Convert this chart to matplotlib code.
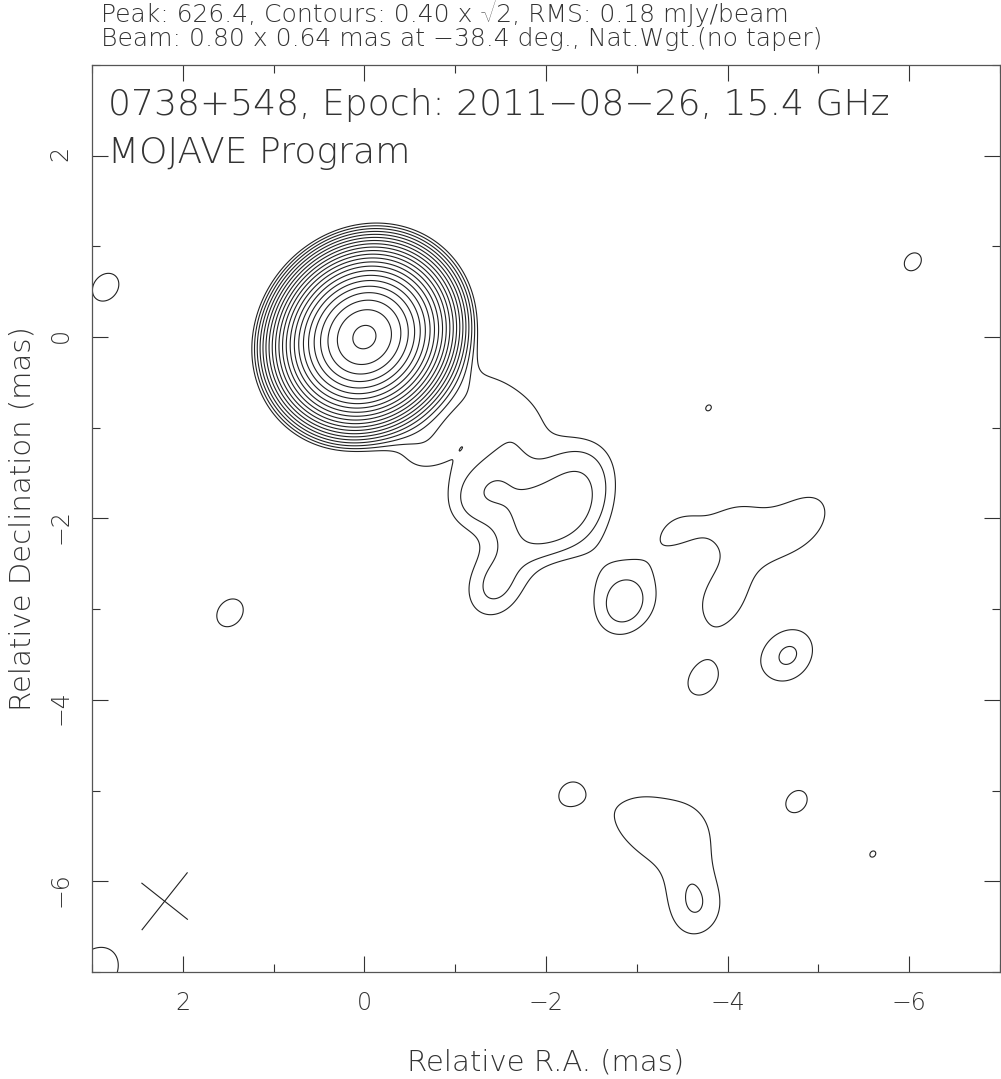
import numpy as np
import matplotlib
matplotlib.use("Agg")
import matplotlib.pyplot as plt
from matplotlib.ticker import MultipleLocator

# restoring beam (mas, mas, deg) and where it is drawn
beam_maj = 0.80
beam_min = 0.64
beam_pa = -38.4
beam_pos = (2.2, -6.22)

# contours: 0.40 mJy/beam x sqrt(2)^n
base_level = 0.40
n_levels = 22

# core: position, peak (mJy/beam), intrinsic size (FWHM maj, min, PA)
core_pos = (0.0, 0.0)
core_peak = 626.0
core_size = (0.34, 0.10, 55.0)

# jet and blob clean components (beam-restored peaks, mJy/beam)
jet_ra = [-1.15, -1.50, -1.85, -0.65, -1.55, -1.40, -1.15, -1.70, -2.30,
          -2.50, -2.35, -2.05, -1.80, -1.50, -1.45, -2.20, -2.55, -1.30,
          -2.88, -2.62, -3.30, -3.57, -4.10, -4.40, -4.95, -4.75, -4.45,
          -4.05, -3.93, -3.90, -4.05, -2.90, -3.25, -3.55, -3.75, -3.45,
          -3.55, -3.70, -3.15,
          -4.67, -3.71, -2.25, -4.76, -6.04, -3.79, -5.60, 1.48, 2.85, 2.95]
jet_dec = [-0.60, -0.70, -0.90, -1.20, -1.20, -1.65, -1.80, -1.75, -1.55,
           -1.75, -2.00, -2.05, -2.10, -2.60, -2.85, -1.30, -1.35, -2.60,
           -2.97, -2.55, -2.17, -2.06, -1.95, -1.90, -1.90, -2.20, -2.30,
           -2.30, -2.65, -2.98, -2.75, -5.25, -5.20, -5.25, -5.55, -5.65,
           -6.05, -6.40, -5.65,
           -3.51, -3.80, -5.03, -5.12, 0.83, -0.78, -5.70, -3.04, 0.55, -6.98]
jet_peak = [0.305, 0.256, 0.227, 0.466, 0.181, 0.347, 0.340, 0.234, 0.217,
            0.241, 0.267, 0.497, 0.263, 0.133, 0.391, 0.197, 0.171, 0.138,
            0.630, 0.211, 0.238, 0.198, 0.266, 0.045, 0.327, 0.178, 0.194,
            0.072, 0.021, 0.330, 0.160, 0.323, 0.099, 0.213, 0.209, 0.020,
            0.299, 0.401, 0.228,
            0.59, 0.44, 0.42, 0.43, 0.42, 0.402, 0.402, 0.45, 0.45, 0.55]

title_lines = ["Peak: 626.4, Contours: 0.40 x \u221a2, RMS: 0.18 mJy/beam",
               "Beam: 0.80 x 0.64 mas at \u221238.4 deg., Nat.Wgt.(no taper)"]
label_lines = ["0738+548, Epoch: 2011\u221208\u221226, 15.4 GHz",
               "MOJAVE Program"]


def cov_from_fwhm(maj, mn, pa_deg):
    pa = np.radians(pa_deg)
    u = np.array([np.sin(pa), np.cos(pa)])
    v = np.array([np.cos(pa), -np.sin(pa)])
    k = 1.0 / (8.0 * np.log(2.0))
    return k * (maj ** 2 * np.outer(u, u) + mn ** 2 * np.outer(v, v))


def gauss(X, Y, x0, y0, peak, cov):
    inv = np.linalg.inv(cov)
    dx = X - x0
    dy = Y - y0
    q = inv[0, 0] * dx * dx + 2 * inv[0, 1] * dx * dy + inv[1, 1] * dy * dy
    return peak * np.exp(-0.5 * q)


FONT = ["DejaVu Sans", "Lato", "Noto Sans"]
LINE = "#222222"
TEXT = "#333333"

fig = plt.figure(figsize=(10.01, 10.79), dpi=100)
ax = fig.add_axes([92 / 1001, 107 / 1079, 908 / 1001, 907 / 1079])

# restored map: components convolved with the beam
xs = np.linspace(3.2, -7.2, 1041)
ys = np.linspace(-7.2, 3.2, 1041)
X, Y = np.meshgrid(xs, ys)
beam_cov = cov_from_fwhm(beam_maj, beam_min, beam_pa)
img = gauss(X, Y, core_pos[0], core_pos[1], core_peak,
            beam_cov + cov_from_fwhm(*core_size))
for ra, dec, pk in zip(jet_ra, jet_dec, jet_peak):
    img += gauss(X, Y, ra, dec, pk, beam_cov)

levels = base_level * np.sqrt(2) ** np.arange(n_levels)
ax.contour(X, Y, img, levels=levels, colors=LINE, linewidths=0.8)

# beam cross
for length, ang in [(beam_maj, beam_pa), (beam_min, beam_pa + 90)]:
    a = np.radians(ang)
    dx = 0.5 * length * np.sin(a)
    dy = 0.5 * length * np.cos(a)
    ax.plot([beam_pos[0] - dx, beam_pos[0] + dx],
            [beam_pos[1] - dy, beam_pos[1] + dy], color=LINE, lw=0.8)

ax.set_xlim(3, -7)
ax.set_ylim(-7, 3)
ax.xaxis.set_major_locator(MultipleLocator(2))
ax.xaxis.set_minor_locator(MultipleLocator(1))
ax.yaxis.set_major_locator(MultipleLocator(2))
ax.yaxis.set_minor_locator(MultipleLocator(1))
ax.tick_params(which="both", direction="in", top=True, right=True,
               color=TEXT, width=0.8)
ax.tick_params(which="major", length=11.5)
ax.tick_params(which="minor", length=5.8)
ax.tick_params(axis="x", pad=14, labelsize=17, labelcolor=TEXT)
ax.tick_params(axis="y", pad=14, labelsize=17, labelrotation=90,
               labelcolor=TEXT)
for lab in ax.get_xticklabels() + ax.get_yticklabels():
    lab.set_family(FONT)
    lab.set_weight("light")
for sp in ax.spines.values():
    sp.set_color("#555555")
    sp.set_linewidth(0.9)

ax.set_xlabel("Relative R.A. (mas)", fontsize=21, family=FONT,
              weight="light", labelpad=24, color=TEXT)
ax.set_ylabel("Relative Declination (mas)", fontsize=21, family=FONT,
              weight="light", labelpad=9, color=TEXT)

for i, line in enumerate(title_lines):
    fig.text(101 / 1001, 1 - (22 + 24 * i) / 1079, line, fontsize=18,
             family=FONT, weight="light", va="baseline", color=TEXT)
for i, line in enumerate(label_lines):
    fig.text(108 / 1001, 1 - (115 + 48 * i) / 1079, line, fontsize=26,
             family=FONT, weight="light", va="baseline", color=TEXT)

fig.savefig("out.png", dpi=100)
